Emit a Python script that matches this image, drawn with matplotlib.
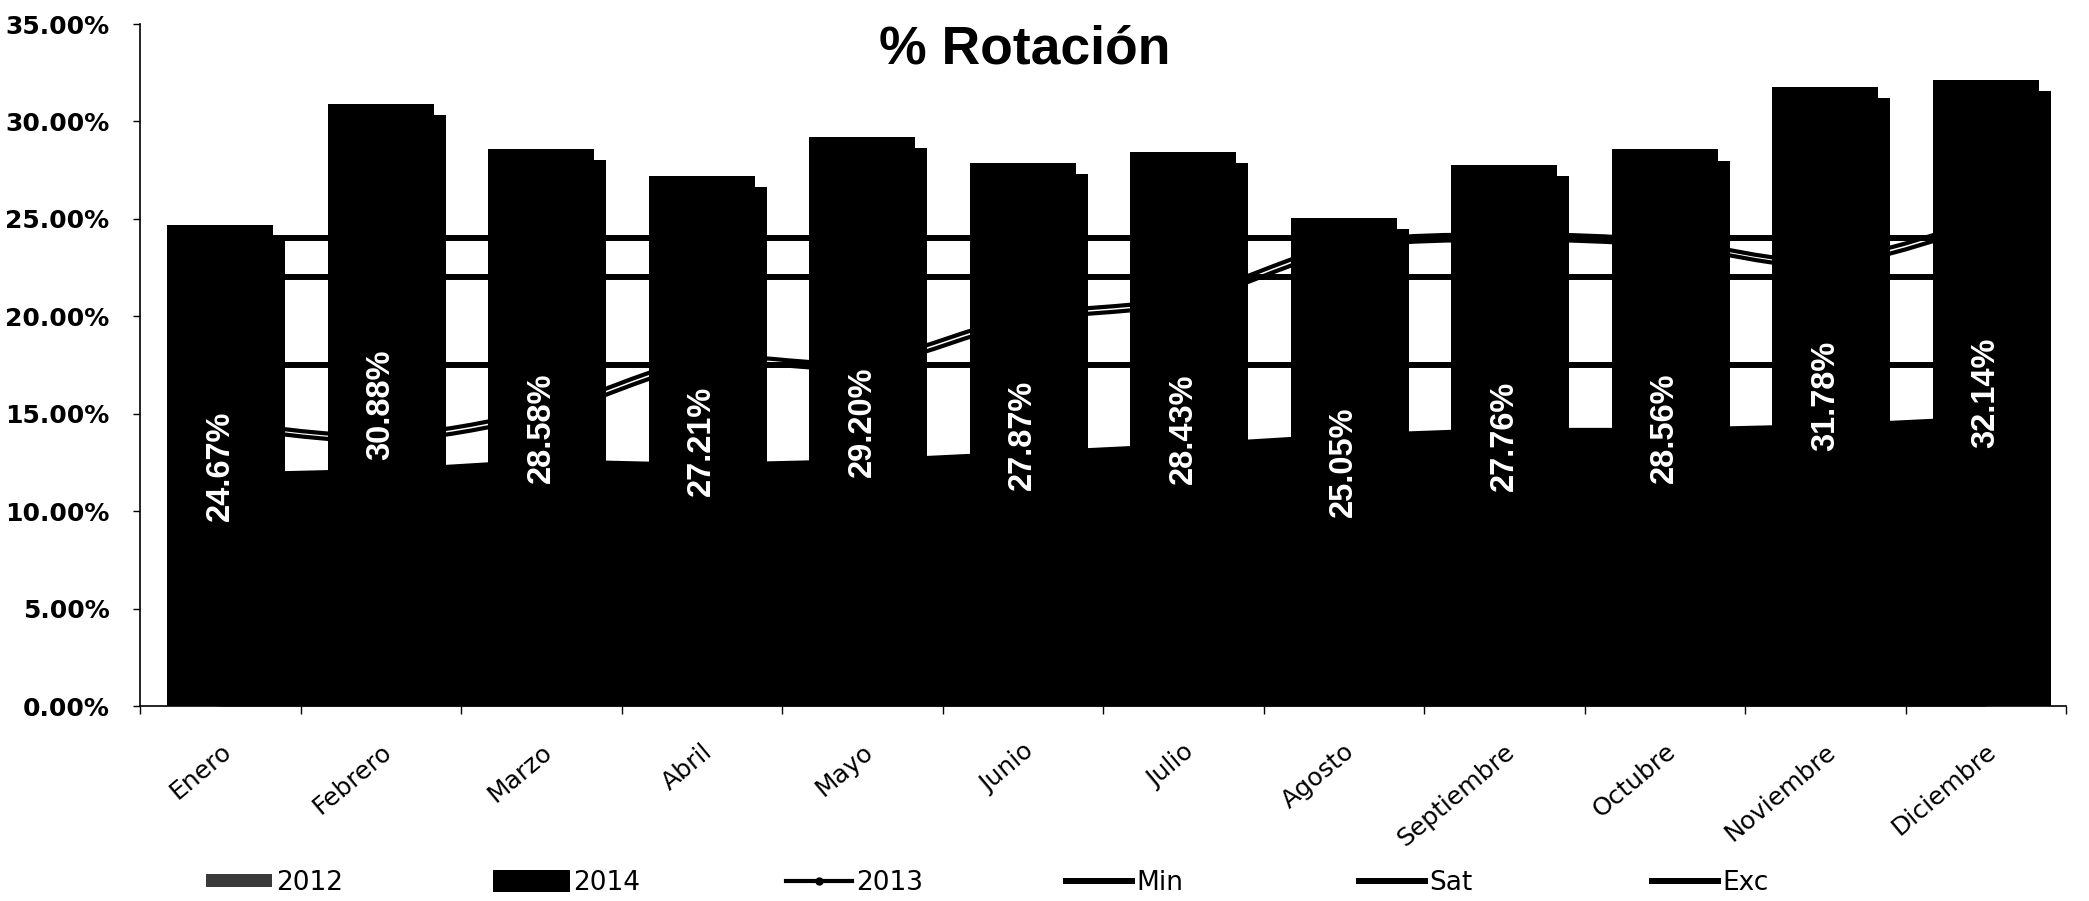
import matplotlib
matplotlib.use("Agg")
import matplotlib.pyplot as plt
import matplotlib.transforms as mtransforms
from matplotlib import patheffects as pe
from matplotlib.path import Path
from matplotlib.patches import PathPatch, Patch
from matplotlib.lines import Line2D
from matplotlib.ticker import FuncFormatter, FixedLocator

# ---- data (percent) ----
months = ["Enero", "Febrero", "Marzo", "Abril", "Mayo", "Junio", "Julio",
          "Agosto", "Septiembre", "Octubre", "Noviembre", "Diciembre"]
rot_2014 = [24.67, 30.88, 28.58, 27.21, 29.20, 27.87, 28.43, 25.05, 27.76, 28.56, 31.78, 32.14]
rot_2012 = [12.0, 12.2, 12.7, 12.5, 12.7, 13.1, 13.5, 14.0, 14.3, 14.3, 14.5, 14.9]
rot_2013 = [14.6, 13.9, 15.2, 17.8, 17.7, 20.0, 21.0, 23.7, 24.2, 23.9, 22.9, 25.0]
nivel_min = [17.5] * 12
nivel_sat = [22.0] * 12
nivel_exc = [24.0] * 12
y_ticks = [0, 5, 10, 15, 20, 25, 30, 35]

W, H = 2089, 901
fig = plt.figure(figsize=(W / 100, H / 100), dpi=100)
fig.patch.set_facecolor("white")
ax = fig.add_axes([140 / W, 1 - 706 / H, (2066 - 140) / W, (706 - 24) / H])

x = list(range(len(months)))

# 2012 as a filled area behind everything
ax.fill_between(x, 0, rot_2012, color="black", lw=0, zorder=1)

# 2014 bars with a drop shadow
bars = ax.bar(x, rot_2014, width=0.66, color="black", edgecolor="none",
              linewidth=0, zorder=3)
for b in bars:
    b.set_path_effects([pe.SimplePatchShadow(offset=(8.6, -8.0),
                                             shadow_rgbFace="black", alpha=1.0),
                        pe.Normal()])

# reference levels
for lvl in (nivel_min, nivel_sat, nivel_exc):
    ax.plot(x, lvl, color="black", lw=4.3, solid_capstyle="butt", zorder=4)


def smooth_path(xs, ys):
    pts = list(zip(xs, ys))
    verts = [pts[0]]
    codes = [Path.MOVETO]
    n = len(pts)
    for i in range(n - 1):
        p0 = pts[i - 1] if i > 0 else pts[i]
        p1 = pts[i]
        p2 = pts[i + 1]
        p3 = pts[i + 2] if i + 2 < n else pts[i + 1]
        c1 = (p1[0] + (p2[0] - p0[0]) / 6, p1[1] + (p2[1] - p0[1]) / 6)
        c2 = (p2[0] - (p3[0] - p1[0]) / 6, p2[1] - (p3[1] - p1[1]) / 6)
        verts += [c1, c2, p2]
        codes += [Path.CURVE4] * 3
    return Path(verts, codes)


path13 = smooth_path(x, rot_2013)
shadow_tr = mtransforms.offset_copy(ax.transData, fig=fig, x=1.5, y=-5.5, units="dots")
ax.add_patch(PathPatch(path13, fill=False, edgecolor="black", lw=3.0,
                       transform=shadow_tr, zorder=5))
ax.add_patch(PathPatch(path13, fill=False, edgecolor="black", lw=3.0, zorder=5))

# value labels on 2014 bars
for xi, v in zip(x, rot_2014):
    ax.text(xi, v / 2, f"{v:.2f}%", rotation=90, ha="center", va="center",
            color="white", fontweight="bold", fontsize=23.5,
            family="Liberation Sans", zorder=10)

# axes styling
ax.set_xlim(-0.5, len(months) - 0.5)
ax.set_ylim(0, 35)
ax.yaxis.set_major_locator(FixedLocator(y_ticks))
ax.yaxis.set_major_formatter(FuncFormatter(lambda v, p: f"{v:.2f}%"))
ax.tick_params(axis="y", direction="out", length=5, width=1, pad=17,
               labelsize=18, colors="black")
for lab in ax.get_yticklabels():
    lab.set_fontweight("bold")
    lab.set_family("DejaVu Sans")

ax.set_xticks(x)
ax.set_xticklabels(months, rotation=40, ha="right", va="top",
                   rotation_mode="anchor", fontsize=18, family="DejaVu Sans")
ax.tick_params(axis="x", which="major", length=0, pad=24)
ax.set_xticks([i - 0.5 for i in range(len(months) + 1)], minor=True)
ax.tick_params(axis="x", which="minor", direction="out", length=6, width=1)

for side in ("top", "right"):
    ax.spines[side].set_visible(False)
ax.spines["left"].set_linewidth(1.2)
ax.spines["bottom"].set_linewidth(1.2)
ax.set_facecolor("white")

fig.text(1025 / W, 1 - 63 / H, "% Rotación", ha="center", va="baseline",
         fontsize=38.5, fontweight="bold", family="Liberation Sans")

# legend row
legend_items = [
    (Patch(facecolor="#3a3a3a", edgecolor="none"), "2012", 206, 2.5, 0.35),
    (Patch(facecolor="black", edgecolor="none"), "2014", 493, 2.9, 0.9),
    (Line2D([], [], color="black", lw=3, marker="o", markersize=5), "2013", 786, 2.5, 0.7),
    (Line2D([], [], color="black", lw=4.3), "Min", 1066, 2.5, 0.7),
    (Line2D([], [], color="black", lw=4.3), "Sat", 1359, 2.5, 0.7),
    (Line2D([], [], color="black", lw=4.3), "Exc", 1652, 2.5, 0.7),
]
for handle, text, xpix, hl, hh in legend_items:
    fig.legend([handle], [text], loc="center left",
               bbox_to_anchor=(xpix / W, 1 - 883 / H), frameon=False,
               handlelength=hl, handleheight=hh, handletextpad=0.15,
               borderpad=0, borderaxespad=0,
               prop={"family": "DejaVu Sans", "size": 19})

fig.savefig("out.png", dpi=100, facecolor="white")
